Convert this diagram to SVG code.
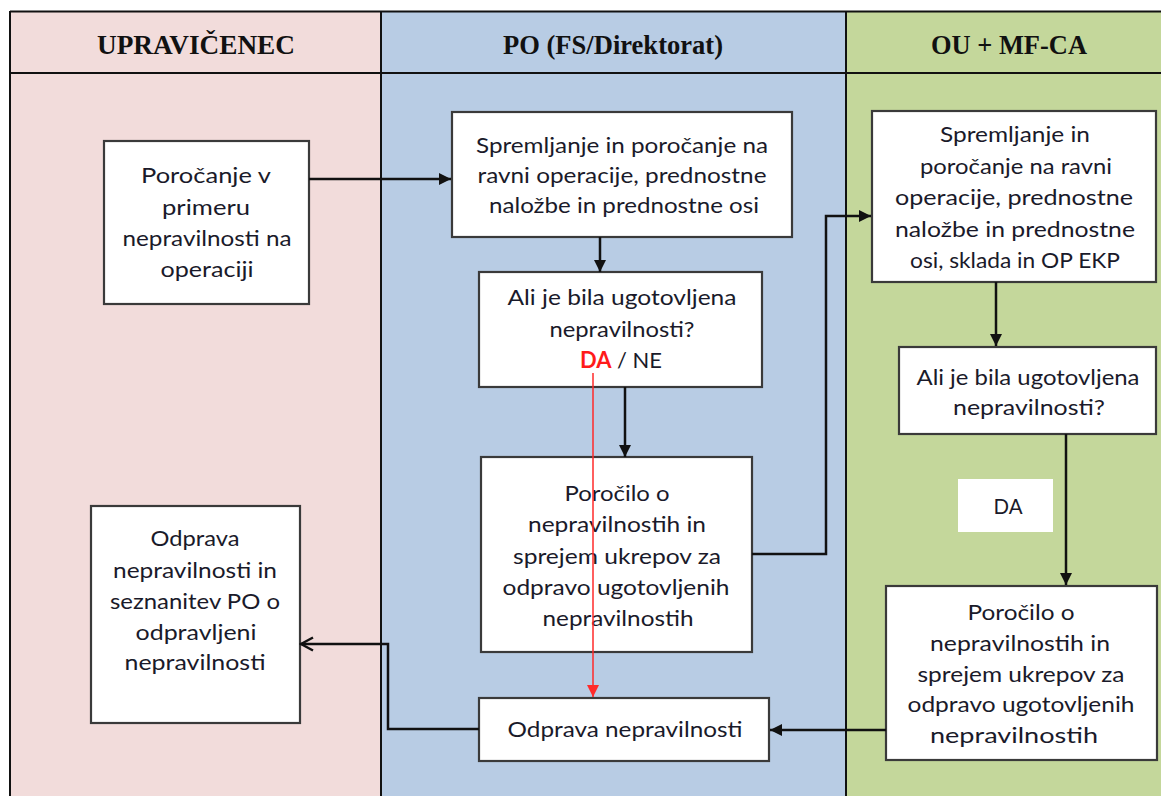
<svg xmlns="http://www.w3.org/2000/svg" width="1161" height="796" viewBox="0 0 1161 796">
  <style>
    .lane-line { stroke: #111; stroke-width: 2; fill: none; }
    .hdr { font-family: "Liberation Serif", "Times New Roman", serif; font-weight: bold; font-size: 28px; fill: #111; text-anchor: middle; }
    .box { fill: #ffffff; stroke: #3a3a3a; stroke-width: 2.2; }
    .txt { font-family: Lato, "Liberation Sans", sans-serif; font-size: 22px; fill: #1a1a2a; text-anchor: middle; }
    .red { fill: #ff1a1a; font-weight: bold; }
    .conn { stroke: #111; stroke-width: 2.5; fill: none; }
    .conn-red { stroke: #ff2a2a; stroke-width: 1.5; fill: none; }
  </style>
  <defs>
    <marker id="arrow" markerUnits="userSpaceOnUse" markerWidth="12" markerHeight="12" refX="12" refY="6" orient="auto">
      <path d="M0,0 L12,6 L0,12 z" fill="#111"/>
    </marker>
    <marker id="arrow-red" markerUnits="userSpaceOnUse" markerWidth="12" markerHeight="12" refX="12" refY="6" orient="auto">
      <path d="M0,0 L12,6 L0,12 z" fill="#ff2a2a"/>
    </marker>
    <marker id="arrow-open" markerUnits="userSpaceOnUse" markerWidth="16" markerHeight="16" refX="14" refY="8" orient="auto">
      <path d="M2,1.5 L14,8 L2,14.5" fill="none" stroke="#111" stroke-width="2.5"/>
    </marker>
  </defs>

  <!-- swimlanes -->
  <g id="lanes">
    <rect x="10" y="11" width="371" height="785" fill="#f2dcdb"/>
    <rect x="381" y="11" width="465" height="785" fill="#b8cce4"/>
    <rect x="846" y="11" width="315" height="785" fill="#c4d79b"/>
    <path class="lane-line" d="M10,11.5 H1161 M10,73 H1161 M10,11 V796 M381,11 V796 M846,11 V796"/>
    <text class="hdr" x="196" y="54" textLength="198" lengthAdjust="spacingAndGlyphs">UPRAVIČENEC</text>
    <text class="hdr" x="613" y="54" textLength="220" lengthAdjust="spacingAndGlyphs">PO (FS/Direktorat)</text>
    <text class="hdr" x="1009" y="54" textLength="156" lengthAdjust="spacingAndGlyphs">OU + MF-CA</text>
  </g>

  <!-- nodes -->
  <g id="node-porocanje">
    <rect class="box" x="104" y="141" width="205" height="163"/>
    <text class="txt" x="206" y="183" textLength="130" lengthAdjust="spacingAndGlyphs">Poročanje v</text>
    <text class="txt" x="206" y="214.5" textLength="88" lengthAdjust="spacingAndGlyphs">primeru</text>
    <text class="txt" x="207" y="246" textLength="169" lengthAdjust="spacingAndGlyphs">nepravilnosti na</text>
    <text class="txt" x="207" y="277" textLength="93" lengthAdjust="spacingAndGlyphs">operaciji</text>
  </g>

  <g id="node-po-spremljanje">
    <rect class="box" x="452" y="112" width="340" height="125"/>
    <text class="txt" x="622" y="153" textLength="292" lengthAdjust="spacingAndGlyphs">Spremljanje in poročanje na</text>
    <text class="txt" x="622" y="183" textLength="289" lengthAdjust="spacingAndGlyphs">ravni operacije, prednostne</text>
    <text class="txt" x="624" y="213" textLength="270" lengthAdjust="spacingAndGlyphs">naložbe in prednostne osi</text>
  </g>

  <g id="node-po-vprasanje">
    <rect class="box" x="479" y="272" width="283" height="115"/>
    <text class="txt" x="622" y="305" textLength="229" lengthAdjust="spacingAndGlyphs">Ali je bila ugotovljena</text>
    <text class="txt" x="622" y="337" textLength="145" lengthAdjust="spacingAndGlyphs">nepravilnosti?</text>
    <text class="txt" x="621" y="368" textLength="82" lengthAdjust="spacingAndGlyphs"><tspan class="red">DA</tspan> / NE</text>
  </g>

  <g id="node-po-porocilo">
    <rect class="box" x="481" y="457" width="271" height="195"/>
    <text class="txt" x="617" y="501" textLength="105" lengthAdjust="spacingAndGlyphs">Poročilo o</text>
    <text class="txt" x="617" y="532" textLength="178" lengthAdjust="spacingAndGlyphs">nepravilnostih in</text>
    <text class="txt" x="617" y="564" textLength="208" lengthAdjust="spacingAndGlyphs">sprejem ukrepov za</text>
    <text class="txt" x="616" y="595" textLength="227" lengthAdjust="spacingAndGlyphs">odpravo ugotovljenih</text>
    <text class="txt" x="618" y="626" textLength="151" lengthAdjust="spacingAndGlyphs">nepravilnostih</text>
  </g>

  <g id="node-po-odprava">
    <rect class="box" x="479" y="698" width="290" height="63"/>
    <text class="txt" x="625" y="737" textLength="235" lengthAdjust="spacingAndGlyphs">Odprava nepravilnosti</text>
  </g>

  <g id="node-upravicenec-odprava">
    <rect class="box" x="91" y="506" width="209" height="217"/>
    <text class="txt" x="195" y="546" textLength="89" lengthAdjust="spacingAndGlyphs">Odprava</text>
    <text class="txt" x="195" y="578" textLength="164" lengthAdjust="spacingAndGlyphs">nepravilnosti in</text>
    <text class="txt" x="195" y="609" textLength="170" lengthAdjust="spacingAndGlyphs">seznanitev PO o</text>
    <text class="txt" x="196" y="640" textLength="121" lengthAdjust="spacingAndGlyphs">odpravljeni</text>
    <text class="txt" x="195" y="670" textLength="141" lengthAdjust="spacingAndGlyphs">nepravilnosti</text>
  </g>

  <g id="node-ou-spremljanje">
    <rect class="box" x="872" y="111" width="284" height="171"/>
    <text class="txt" x="1015" y="142" textLength="150" lengthAdjust="spacingAndGlyphs">Spremljanje in</text>
    <text class="txt" x="1016" y="173.5" textLength="192" lengthAdjust="spacingAndGlyphs">poročanje na ravni</text>
    <text class="txt" x="1014" y="205" textLength="238" lengthAdjust="spacingAndGlyphs">operacije, prednostne</text>
    <text class="txt" x="1015" y="236.5" textLength="240" lengthAdjust="spacingAndGlyphs">naložbe in prednostne</text>
    <text class="txt" x="1015" y="268" textLength="210" lengthAdjust="spacingAndGlyphs">osi, sklada in OP EKP</text>
  </g>

  <g id="node-ou-vprasanje">
    <rect class="box" x="899" y="347" width="257" height="87"/>
    <text class="txt" x="1028" y="385" textLength="223" lengthAdjust="spacingAndGlyphs">Ali je bila ugotovljena</text>
    <text class="txt" x="1029" y="415" textLength="152" lengthAdjust="spacingAndGlyphs">nepravilnosti?</text>
  </g>

  <g id="node-ou-da">
    <rect x="958" y="479" width="95" height="53" fill="#ffffff"/>
    <text class="txt" x="1008" y="514" textLength="29" lengthAdjust="spacingAndGlyphs">DA</text>
  </g>

  <g id="node-ou-porocilo">
    <rect class="box" x="886" y="586" width="271" height="174"/>
    <text class="txt" x="1021" y="620" textLength="107" lengthAdjust="spacingAndGlyphs">Poročilo o</text>
    <text class="txt" x="1020" y="651" textLength="180" lengthAdjust="spacingAndGlyphs">nepravilnostih in</text>
    <text class="txt" x="1021" y="682" textLength="207" lengthAdjust="spacingAndGlyphs">sprejem ukrepov za</text>
    <text class="txt" x="1021" y="712" textLength="227" lengthAdjust="spacingAndGlyphs">odpravo ugotovljenih</text>
    <text class="txt" x="1014" y="743" textLength="168" lengthAdjust="spacingAndGlyphs">nepravilnostih</text>
  </g>

  <!-- connectors (drawn last: the red DA path runs across the report box) -->
  <g id="connectors">
    <path class="conn" d="M309,179 H451" marker-end="url(#arrow)"/>
    <path class="conn" d="M600,237 V272" marker-end="url(#arrow)"/>
    <path class="conn" d="M625,387 V457" marker-end="url(#arrow)"/>
    <path class="conn-red" d="M593,373 V697" marker-end="url(#arrow-red)"/>
    <path class="conn" d="M752,554 H826 V216 H871" marker-end="url(#arrow)"/>
    <path class="conn" d="M996,282 V346" marker-end="url(#arrow)"/>
    <path class="conn" d="M1066,434 V585" marker-end="url(#arrow)"/>
    <path class="conn" d="M886,730 H770" marker-end="url(#arrow)"/>
    <path class="conn" d="M479,729 H388 V644 H301" marker-end="url(#arrow-open)"/>
  </g>
</svg>
